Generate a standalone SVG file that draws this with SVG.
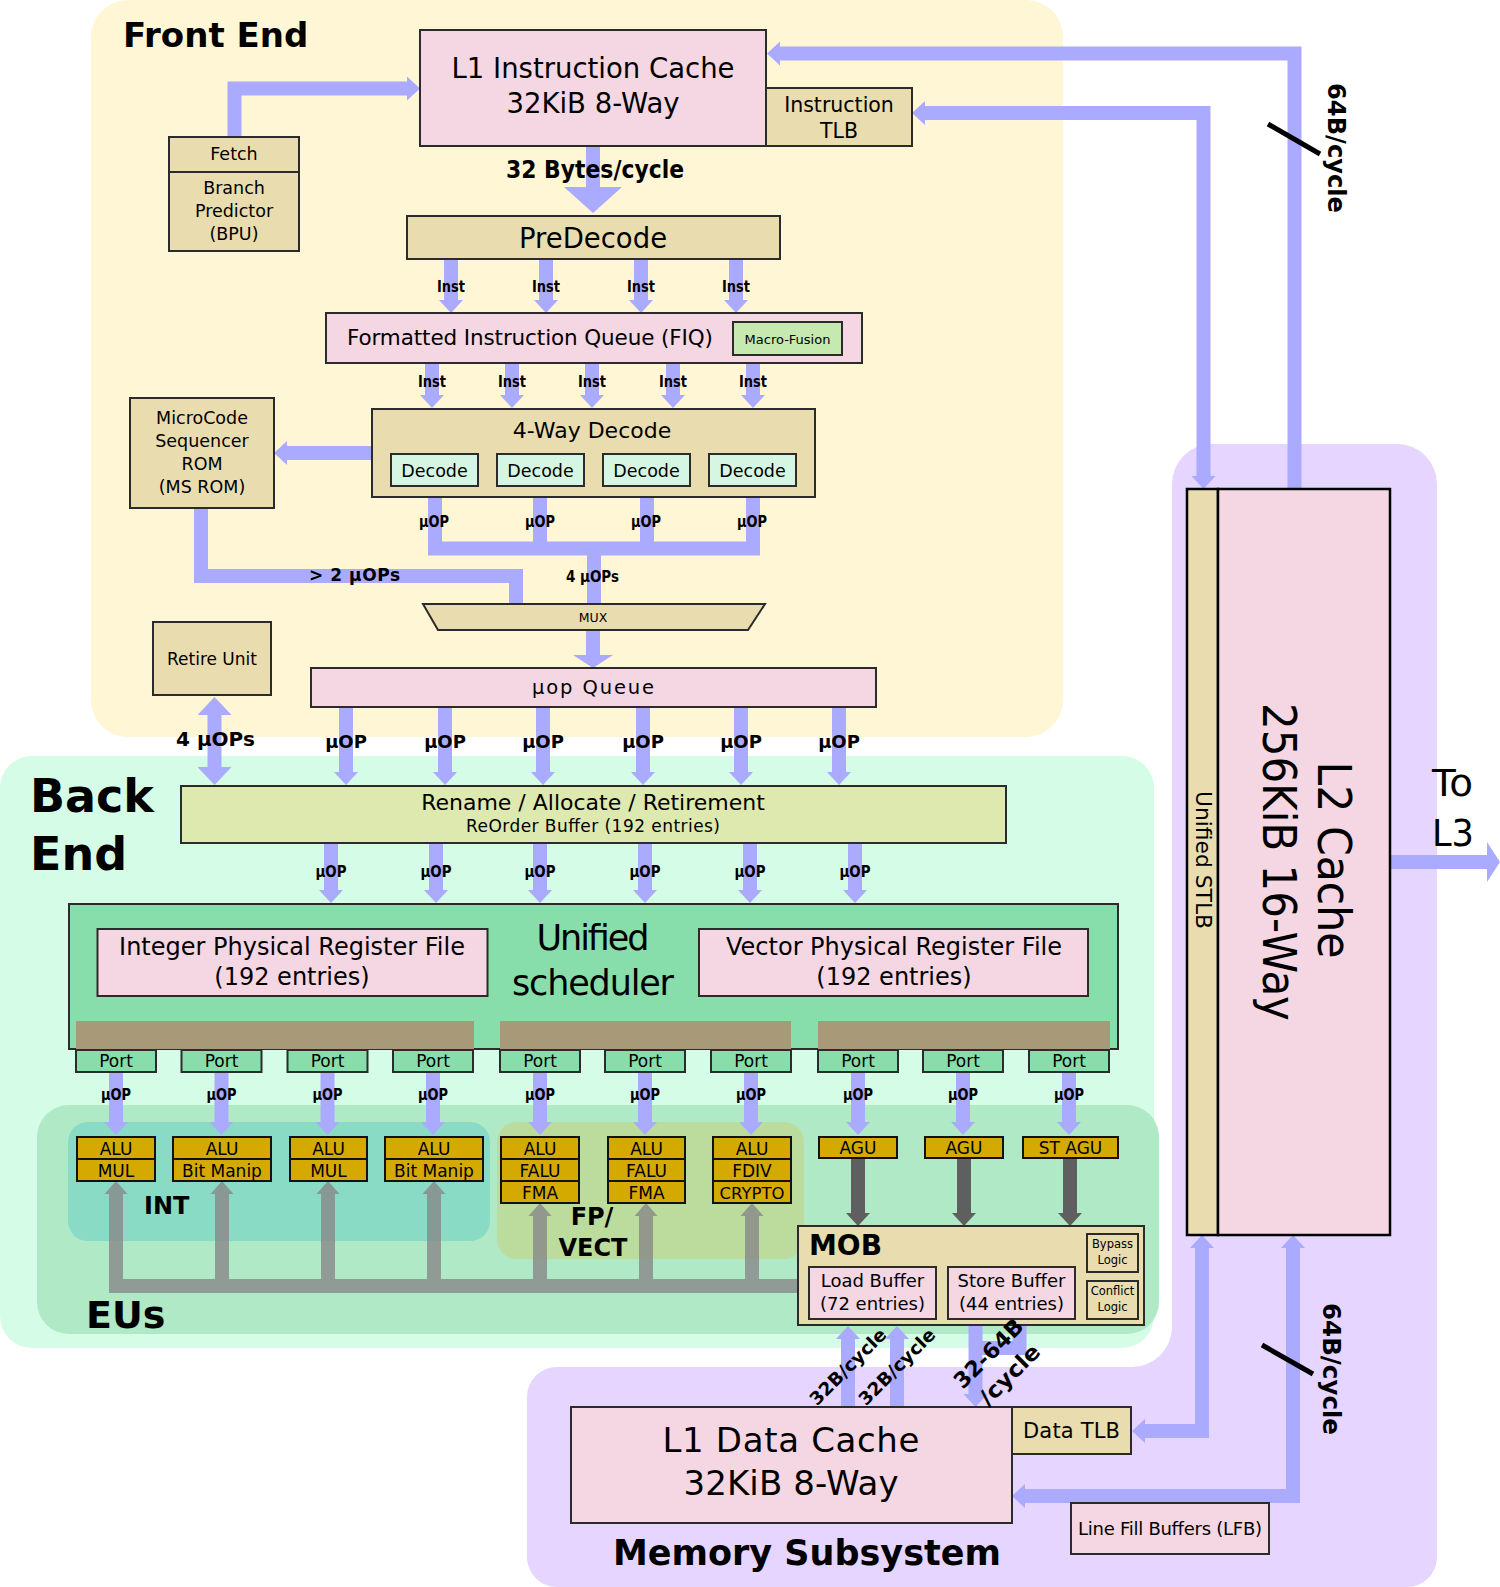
<svg xmlns="http://www.w3.org/2000/svg" width="1500" height="1587" viewBox="0 0 1500 1587">
<defs>
<style>
text{font-family:"DejaVu Sans","Liberation Sans",sans-serif;fill:#000}
.b{font-weight:bold}
.m{text-anchor:middle}
.bx{stroke:#2b2b2b;stroke-width:2}
.tan{fill:#e9ddaf}
.pink{fill:#f4d7e3}
.grn{fill:#87deaa}
.gold{fill:#d4aa00;stroke:#111;stroke-width:2}
.dec{fill:#d5f6e3}
.bl{fill:none;stroke:#aaaaff;stroke-width:14}
.dk{fill:none;stroke:#5f5f5f;stroke-width:14}
.gr{fill:none;stroke:#888;stroke-width:14}
.lb{font-weight:bold;font-size:15px;text-anchor:middle}
</style>
<marker id="ah" markerUnits="userSpaceOnUse" markerWidth="13" markerHeight="24" refX="0" refY="12" orient="auto-start-reverse" overflow="visible"><path d="M0,0 L13,12 L0,24 Z" fill="#aaaaff"/></marker>
<marker id="ahBig" markerUnits="userSpaceOnUse" markerWidth="26" markerHeight="58" refX="0" refY="29" orient="auto" overflow="visible"><path d="M0,0 L26,29 L0,58 Z" fill="#aaaaff"/></marker>
<marker id="ahW" markerUnits="userSpaceOnUse" markerWidth="13" markerHeight="40" refX="0" refY="20" orient="auto" overflow="visible"><path d="M0,0 L13,20 L0,40 Z" fill="#aaaaff"/></marker>
<marker id="ahRet" markerUnits="userSpaceOnUse" markerWidth="18" markerHeight="34" refX="0" refY="17" orient="auto-start-reverse" overflow="visible"><path d="M0,0 L18,17 L0,34 Z" fill="#aaaaff"/></marker>
<marker id="ahDk" markerUnits="userSpaceOnUse" markerWidth="13" markerHeight="24" refX="0" refY="12" orient="auto" overflow="visible"><path d="M0,0 L13,12 L0,24 Z" fill="#5f5f5f"/></marker>
<marker id="ahGr" markerUnits="userSpaceOnUse" markerWidth="13" markerHeight="23" refX="0" refY="11.5" orient="auto" overflow="visible"><path d="M0,0 L13,11.5 L0,23 Z" fill="#888"/></marker>
</defs>

<g id="backgrounds">
<path id="memory-subsystem-bg" d="M1212,444 H1397 A40,40 0 0 1 1437,484 V1557 A30,30 0 0 1 1407,1587 H557 A30,30 0 0 1 527,1557 V1397 A30,30 0 0 1 557,1367 H1132 A40,40 0 0 0 1172,1327 V484 A40,40 0 0 1 1212,444 Z" fill="#e5d5ff"/>
<rect id="front-end-bg" x="91" y="0" width="972" height="737" rx="37" fill="#fff6d5"/>
<rect id="back-end-bg" x="0" y="756" width="1154" height="592" rx="32" fill="#d5fce6"/>
<rect id="eus-bg" x="37" y="1105" width="1122" height="229" rx="32" fill="#afe9c6"/>
<rect id="int-bg" x="68" y="1122" width="422" height="119" rx="20" fill="#8adbc5"/>
<rect id="fp-bg" x="497" y="1122" width="307" height="137" rx="20" fill="#bcdc9e"/>
</g>

<g id="section-labels">
<text class="b" x="123" y="47" font-size="34">Front End</text>
<text class="b" x="30" y="812" font-size="46">Back</text>
<text class="b" x="30" y="870" font-size="46">End</text>
<text class="b" x="86" y="1328" font-size="38">EUs</text>
<text class="b" x="144" y="1214" font-size="24">INT</text>
<text class="b m" x="592" y="1225" font-size="24">FP/</text>
<text class="b m" x="593" y="1256" font-size="24">VECT</text>
<text class="b m" x="807" y="1565" font-size="35">Memory Subsystem</text>
</g>

<g id="connectors">
<path class="bl" d="M234.5,137 V88.5 H407" marker-end="url(#ah)"/>
<line class="bl" x1="593" y1="146" x2="593" y2="187" stroke-width="37" marker-end="url(#ahBig)"/>
<line class="bl" x1="451" y1="259" x2="451" y2="300" marker-end="url(#ah)"/>
<line class="bl" x1="546" y1="259" x2="546" y2="300" marker-end="url(#ah)"/>
<line class="bl" x1="641" y1="259" x2="641" y2="300" marker-end="url(#ah)"/>
<line class="bl" x1="736" y1="259" x2="736" y2="300" marker-end="url(#ah)"/>
<line class="bl" x1="432" y1="363" x2="432" y2="395" marker-end="url(#ah)"/>
<line class="bl" x1="512" y1="363" x2="512" y2="395" marker-end="url(#ah)"/>
<line class="bl" x1="592" y1="363" x2="592" y2="395" marker-end="url(#ah)"/>
<line class="bl" x1="673" y1="363" x2="673" y2="395" marker-end="url(#ah)"/>
<line class="bl" x1="753" y1="363" x2="753" y2="395" marker-end="url(#ah)"/>
<line class="bl" x1="372" y1="453" x2="287" y2="453" marker-end="url(#ah)"/>
<path class="bl" d="M435,497 V548.5 H753 V497"/>
<path class="bl" d="M540,497 V548.5 M647,497 V548.5 M594,548.5 V604"/>
<path class="bl" d="M201,508 V576 H516 V604"/>
<line class="bl" x1="593" y1="630" x2="593" y2="655" stroke-width="24" marker-end="url(#ahW)"/>
<line class="bl" x1="346" y1="707" x2="346" y2="772" stroke-width="15" marker-end="url(#ah)"/>
<line class="bl" x1="445" y1="707" x2="445" y2="772" stroke-width="15" marker-end="url(#ah)"/>
<line class="bl" x1="543" y1="707" x2="543" y2="772" stroke-width="15" marker-end="url(#ah)"/>
<line class="bl" x1="643" y1="707" x2="643" y2="772" stroke-width="15" marker-end="url(#ah)"/>
<line class="bl" x1="741" y1="707" x2="741" y2="772" stroke-width="15" marker-end="url(#ah)"/>
<line class="bl" x1="839" y1="707" x2="839" y2="772" stroke-width="15" marker-end="url(#ah)"/>
<line class="bl" x1="214.5" y1="715" x2="214.5" y2="767" stroke-width="19" marker-start="url(#ahRet)" marker-end="url(#ahRet)"/>
<line class="bl" x1="331" y1="843" x2="331" y2="890" marker-end="url(#ah)"/>
<line class="bl" x1="436" y1="843" x2="436" y2="890" marker-end="url(#ah)"/>
<line class="bl" x1="540" y1="843" x2="540" y2="890" marker-end="url(#ah)"/>
<line class="bl" x1="645" y1="843" x2="645" y2="890" marker-end="url(#ah)"/>
<line class="bl" x1="750" y1="843" x2="750" y2="890" marker-end="url(#ah)"/>
<line class="bl" x1="855" y1="843" x2="855" y2="890" marker-end="url(#ah)"/>
<line class="bl" x1="116" y1="1072" x2="116" y2="1122" marker-end="url(#ah)"/>
<line class="bl" x1="221.5" y1="1072" x2="221.5" y2="1122" marker-end="url(#ah)"/>
<line class="bl" x1="327.5" y1="1072" x2="327.5" y2="1122" marker-end="url(#ah)"/>
<line class="bl" x1="433" y1="1072" x2="433" y2="1122" marker-end="url(#ah)"/>
<line class="bl" x1="540" y1="1072" x2="540" y2="1122" marker-end="url(#ah)"/>
<line class="bl" x1="645" y1="1072" x2="645" y2="1122" marker-end="url(#ah)"/>
<line class="bl" x1="751" y1="1072" x2="751" y2="1122" marker-end="url(#ah)"/>
<line class="bl" x1="858" y1="1072" x2="858" y2="1122" marker-end="url(#ah)"/>
<line class="bl" x1="963" y1="1072" x2="963" y2="1122" marker-end="url(#ah)"/>
<line class="bl" x1="1069" y1="1072" x2="1069" y2="1122" marker-end="url(#ah)"/>
<line class="dk" x1="858" y1="1158" x2="858" y2="1213" marker-end="url(#ahDk)"/>
<line class="dk" x1="964" y1="1158" x2="964" y2="1213" marker-end="url(#ahDk)"/>
<line class="dk" x1="1070" y1="1158" x2="1070" y2="1213" marker-end="url(#ahDk)"/>
<g id="result-bus" opacity="0.8">
<path class="gr" d="M109,1286 H798"/>
<line class="gr" x1="116" y1="1286" x2="116" y2="1194" marker-end="url(#ahGr)"/>
<line class="gr" x1="222" y1="1286" x2="222" y2="1194" marker-end="url(#ahGr)"/>
<line class="gr" x1="328" y1="1286" x2="328" y2="1194" marker-end="url(#ahGr)"/>
<line class="gr" x1="434" y1="1286" x2="434" y2="1194" marker-end="url(#ahGr)"/>
<line class="gr" x1="540" y1="1286" x2="540" y2="1216" marker-end="url(#ahGr)"/>
<line class="gr" x1="646" y1="1286" x2="646" y2="1216" marker-end="url(#ahGr)"/>
<line class="gr" x1="752" y1="1286" x2="752" y2="1216" marker-end="url(#ahGr)"/>
</g>
<line class="bl" x1="848" y1="1407" x2="848" y2="1339" marker-end="url(#ah)"/>
<line class="bl" x1="897" y1="1407" x2="897" y2="1339" marker-end="url(#ah)"/>
<line class="bl" x1="975.5" y1="1325" x2="975.5" y2="1394" stroke-width="15" marker-end="url(#ah)"/>
<path class="bl" d="M1019.5,1325 V1348 H975"/>
<path class="bl" d="M1294.5,489 V53.5 H780" stroke-width="13" marker-end="url(#ah)"/>
<path class="bl" d="M925,113 H1203.5 V476" stroke-width="13" marker-start="url(#ah)" marker-end="url(#ah)"/>
<path class="bl" d="M1202,1248 V1431 H1145" stroke-width="13" marker-start="url(#ah)" marker-end="url(#ah)"/>
<path class="bl" d="M1293,1248 V1496 H1025" stroke-width="13" marker-start="url(#ah)" marker-end="url(#ah)"/>
<line class="bl" x1="1390" y1="862" x2="1487" y2="862" stroke-width="25" marker-end="url(#ahW)"/>
<line x1="1268" y1="124" x2="1320" y2="154" stroke="#000" stroke-width="5"/>
<line x1="1262" y1="1345" x2="1313" y2="1374" stroke="#000" stroke-width="5"/>
</g>

<g id="l1-icache">
<rect class="bx pink" x="420" y="30" width="346" height="116"/>
<text class="m" x="593" y="78" font-size="27.5">L1 Instruction Cache</text>
<text class="m" x="593" y="113" font-size="27.5">32KiB 8-Way</text>
</g>
<g id="itlb">
<rect class="bx tan" x="766" y="88" width="146" height="58"/>
<text class="m" x="839" y="112" font-size="20.5">Instruction</text>
<text class="m" x="839" y="138" font-size="20.5">TLB</text>
</g>
<g id="fetch">
<rect class="bx tan" x="169" y="137" width="130" height="114"/>
<line class="bx" x1="169" y1="172" x2="299" y2="172"/>
<text class="m" x="234" y="160" font-size="17.5">Fetch</text>
<text class="m" x="234" y="194" font-size="17.5">Branch</text>
<text class="m" x="234" y="217" font-size="17.5">Predictor</text>
<text class="m" x="234" y="240" font-size="17.5">(BPU)</text>
</g>
<g id="predecode">
<rect class="bx tan" x="407" y="216" width="373" height="43"/>
<text class="m" x="593" y="248" font-size="27.5">PreDecode</text>
</g>
<g id="fiq">
<rect class="bx pink" x="326" y="313" width="536" height="50"/>
<text x="347" y="345" font-size="21.5" textLength="366">Formatted Instruction Queue (FIQ)</text>
<rect class="bx" x="733" y="322" width="109" height="33" fill="#c6e9af"/>
<text class="m" x="787.5" y="344" font-size="13">Macro-Fusion</text>
</g>
<g id="decode">
<rect class="bx tan" x="372" y="409" width="443" height="88"/>
<text class="m" x="592" y="438" font-size="22">4-Way Decode</text>
<rect class="bx dec" x="391" y="454" width="87" height="32"/>
<rect class="bx dec" x="497" y="454" width="87" height="32"/>
<rect class="bx dec" x="603" y="454" width="87" height="32"/>
<rect class="bx dec" x="709" y="454" width="87" height="32"/>
<text class="m" x="434.5" y="477" font-size="17.5">Decode</text>
<text class="m" x="540.5" y="477" font-size="17.5">Decode</text>
<text class="m" x="646.5" y="477" font-size="17.5">Decode</text>
<text class="m" x="752.5" y="477" font-size="17.5">Decode</text>
</g>
<g id="msrom">
<rect class="bx tan" x="130" y="398" width="144" height="110"/>
<text class="m" x="202" y="424" font-size="17.5">MicroCode</text>
<text class="m" x="202" y="447" font-size="17.5">Sequencer</text>
<text class="m" x="202" y="470" font-size="17.5">ROM</text>
<text class="m" x="202" y="493" font-size="17.5">(MS ROM)</text>
</g>
<g id="mux">
<polygon class="bx tan" points="423,604 765,604 748,630 438,630"/>
<text class="m" x="593" y="622" font-size="12.5">MUX</text>
</g>
<g id="retire-unit">
<rect class="bx tan" x="153" y="622" width="118" height="73"/>
<text class="m" x="212" y="665" font-size="17">Retire Unit</text>
</g>
<g id="uop-queue">
<rect class="bx pink" x="311" y="668" width="565" height="39"/>
<text class="m" x="593" y="694" font-size="19.5" textLength="122">µop Queue</text>
</g>
<g id="rename">
<rect class="bx" x="181" y="786" width="825" height="57" fill="#dde9af"/>
<text class="m" x="593" y="810" font-size="22">Rename / Allocate / Retirement</text>
<text class="m" x="593" y="832" font-size="17" textLength="254">ReOrder Buffer  (192 entries)</text>
</g>
<g id="scheduler">
<rect class="bx grn" x="69" y="904" width="1049" height="145"/>
<rect class="bx pink" x="97.5" y="929" width="390" height="67"/>
<text class="m" x="292" y="955" font-size="24">Integer Physical Register File</text>
<text class="m" x="292" y="985" font-size="24">(192 entries)</text>
<rect class="bx pink" x="699" y="929" width="389" height="67"/>
<text class="m" x="894" y="955" font-size="24">Vector Physical Register File</text>
<text class="m" x="894" y="985" font-size="24">(192 entries)</text>
<text class="m" x="593" y="950" font-size="35" textLength="113">Unified</text>
<text class="m" x="593" y="995" font-size="35" textLength="162">scheduler</text>
<rect x="76" y="1021" width="398" height="28" fill="#a89a78"/>
<rect x="500" y="1021" width="291" height="28" fill="#a89a78"/>
<rect x="818" y="1021" width="292" height="28" fill="#a89a78"/>
</g>
<g id="ports">
<rect class="bx grn" x="76" y="1050" width="80" height="22"/>
<rect class="bx grn" x="181.5" y="1050" width="80" height="22"/>
<rect class="bx grn" x="287.5" y="1050" width="80" height="22"/>
<rect class="bx grn" x="393" y="1050" width="80" height="22"/>
<rect class="bx grn" x="500" y="1050" width="80" height="22"/>
<rect class="bx grn" x="605" y="1050" width="80" height="22"/>
<rect class="bx grn" x="711" y="1050" width="80" height="22"/>
<rect class="bx grn" x="818" y="1050" width="80" height="22"/>
<rect class="bx grn" x="923" y="1050" width="80" height="22"/>
<rect class="bx grn" x="1029" y="1050" width="80" height="22"/>
<text class="m" x="116" y="1067" font-size="17">Port</text>
<text class="m" x="221.5" y="1067" font-size="17">Port</text>
<text class="m" x="327.5" y="1067" font-size="17">Port</text>
<text class="m" x="433" y="1067" font-size="17">Port</text>
<text class="m" x="540" y="1067" font-size="17">Port</text>
<text class="m" x="645" y="1067" font-size="17">Port</text>
<text class="m" x="751" y="1067" font-size="17">Port</text>
<text class="m" x="858" y="1067" font-size="17">Port</text>
<text class="m" x="963" y="1067" font-size="17">Port</text>
<text class="m" x="1069" y="1067" font-size="17">Port</text>
</g>
<g id="int-units">
<rect class="gold" x="77" y="1137" width="78" height="22"/><rect class="gold" x="77" y="1159" width="78" height="22"/>
<rect class="gold" x="173" y="1137" width="98" height="22"/><rect class="gold" x="173" y="1159" width="98" height="22"/>
<rect class="gold" x="290" y="1137" width="77" height="22"/><rect class="gold" x="290" y="1159" width="77" height="22"/>
<rect class="gold" x="385" y="1137" width="98" height="22"/><rect class="gold" x="385" y="1159" width="98" height="22"/>
<text class="m" x="116" y="1155" font-size="17">ALU</text><text class="m" x="116" y="1177" font-size="17">MUL</text>
<text class="m" x="222" y="1155" font-size="17">ALU</text><text class="m" x="222" y="1177" font-size="17">Bit Manip</text>
<text class="m" x="328.5" y="1155" font-size="17">ALU</text><text class="m" x="328.5" y="1177" font-size="17">MUL</text>
<text class="m" x="434" y="1155" font-size="17">ALU</text><text class="m" x="434" y="1177" font-size="17">Bit Manip</text>
</g>
<g id="fp-units">
<rect class="gold" x="501" y="1137" width="78" height="22"/><rect class="gold" x="501" y="1159" width="78" height="22"/><rect class="gold" x="501" y="1181" width="78" height="22"/>
<rect class="gold" x="608" y="1137" width="77" height="22"/><rect class="gold" x="608" y="1159" width="77" height="22"/><rect class="gold" x="608" y="1181" width="77" height="22"/>
<rect class="gold" x="713" y="1137" width="78" height="22"/><rect class="gold" x="713" y="1159" width="78" height="22"/><rect class="gold" x="713" y="1181" width="78" height="22"/>
<text class="m" x="540" y="1155" font-size="17">ALU</text><text class="m" x="540" y="1177" font-size="17">FALU</text><text class="m" x="540" y="1199" font-size="17">FMA</text>
<text class="m" x="646.5" y="1155" font-size="17">ALU</text><text class="m" x="646.5" y="1177" font-size="17">FALU</text><text class="m" x="646.5" y="1199" font-size="17">FMA</text>
<text class="m" x="752" y="1155" font-size="17">ALU</text><text class="m" x="752" y="1177" font-size="17">FDIV</text><text class="m" x="752" y="1199" font-size="16.5">CRYPTO</text>
</g>
<g id="agu-units">
<rect class="gold" x="819" y="1137" width="78" height="21"/>
<rect class="gold" x="925" y="1137" width="78" height="21"/>
<rect class="gold" x="1023" y="1137" width="95" height="21"/>
<text class="m" x="858" y="1154" font-size="17">AGU</text>
<text class="m" x="964" y="1154" font-size="17">AGU</text>
<text class="m" x="1070.5" y="1154" font-size="17">ST AGU</text>
</g>
<g id="mob">
<rect class="bx tan" x="798" y="1226" width="346" height="99"/>
<text class="b" x="809" y="1255" font-size="28">MOB</text>
<rect class="bx pink" x="809" y="1267" width="127" height="52"/>
<text class="m" x="872.5" y="1287" font-size="18">Load Buffer</text>
<text class="m" x="872.5" y="1310" font-size="18">(72 entries)</text>
<rect class="bx pink" x="948" y="1267" width="127" height="52"/>
<text class="m" x="1011.5" y="1287" font-size="18">Store Buffer</text>
<text class="m" x="1011.5" y="1310" font-size="18">(44 entries)</text>
<rect class="bx tan" x="1087" y="1234" width="51" height="38"/>
<text class="m" x="1112.5" y="1248" font-size="11.5">Bypass</text>
<text class="m" x="1112.5" y="1264" font-size="11.5">Logic</text>
<rect class="bx tan" x="1087" y="1281" width="51" height="38"/>
<text class="m" x="1112.5" y="1295" font-size="11.5">Conflict</text>
<text class="m" x="1112.5" y="1311" font-size="11.5">Logic</text>
</g>
<g id="l1-dcache">
<rect class="bx pink" x="571" y="1407" width="441" height="116"/>
<text class="m" x="791" y="1452" font-size="34" textLength="257">L1 Data Cache</text>
<text class="m" x="791" y="1495" font-size="34" textLength="215">32KiB 8-Way</text>
</g>
<g id="dtlb">
<rect class="bx tan" x="1012" y="1407" width="119" height="47"/>
<text class="m" x="1071.5" y="1438" font-size="21" textLength="97">Data TLB</text>
</g>
<g id="lfb">
<rect class="bx pink" x="1071" y="1503" width="198" height="51"/>
<text class="m" x="1170" y="1535" font-size="18" textLength="184">Line Fill Buffers (LFB)</text>
</g>
<g id="l2-cache">
<rect class="tan" x="1187" y="489" width="31" height="746" stroke="#000" stroke-width="2.5"/>
<rect class="pink" x="1218" y="489" width="172" height="746" stroke="#000" stroke-width="2.5"/>
<text class="m" transform="translate(1196,860) rotate(90)" font-size="21" textLength="138" lengthAdjust="spacingAndGlyphs">Unified STLB</text>
<text class="m" transform="translate(1318,860) rotate(90)" font-size="46" textLength="197" lengthAdjust="spacingAndGlyphs">L2 Cache</text>
<text class="m" transform="translate(1263,862) rotate(90)" font-size="46" textLength="318" lengthAdjust="spacingAndGlyphs">256KiB 16-Way</text>
</g>
<g id="to-l3">
<text x="1432" y="796" font-size="38" textLength="41" lengthAdjust="spacingAndGlyphs">To</text>
<text x="1432" y="846" font-size="38" textLength="42" lengthAdjust="spacingAndGlyphs">L3</text>
</g>

<g id="connector-labels">
<text class="b m" x="595" y="178" font-size="25" textLength="178" lengthAdjust="spacingAndGlyphs">32 Bytes/cycle</text>
<text class="lb" x="451" y="292" textLength="28" lengthAdjust="spacingAndGlyphs">Inst</text>
<text class="lb" x="546" y="292" textLength="28" lengthAdjust="spacingAndGlyphs">Inst</text>
<text class="lb" x="641" y="292" textLength="28" lengthAdjust="spacingAndGlyphs">Inst</text>
<text class="lb" x="736" y="292" textLength="28" lengthAdjust="spacingAndGlyphs">Inst</text>
<text class="lb" x="432" y="387" textLength="28" lengthAdjust="spacingAndGlyphs">Inst</text>
<text class="lb" x="512" y="387" textLength="28" lengthAdjust="spacingAndGlyphs">Inst</text>
<text class="lb" x="592" y="387" textLength="28" lengthAdjust="spacingAndGlyphs">Inst</text>
<text class="lb" x="673" y="387" textLength="28" lengthAdjust="spacingAndGlyphs">Inst</text>
<text class="lb" x="753" y="387" textLength="28" lengthAdjust="spacingAndGlyphs">Inst</text>
<text class="lb" x="434" y="527" textLength="30" lengthAdjust="spacingAndGlyphs">µOP</text>
<text class="lb" x="540" y="527" textLength="30" lengthAdjust="spacingAndGlyphs">µOP</text>
<text class="lb" x="646" y="527" textLength="30" lengthAdjust="spacingAndGlyphs">µOP</text>
<text class="lb" x="752" y="527" textLength="30" lengthAdjust="spacingAndGlyphs">µOP</text>
<text class="b" x="309" y="581" font-size="17" textLength="91">&gt; 2 µOPs</text>
<text class="b m" x="592.5" y="582" font-size="15" textLength="53" lengthAdjust="spacingAndGlyphs">4 µOPs</text>
<text class="b" x="176" y="746" font-size="20">4 µOPs</text>
<text class="b m" x="346" y="748" font-size="18">µOP</text>
<text class="b m" x="445" y="748" font-size="18">µOP</text>
<text class="b m" x="543" y="748" font-size="18">µOP</text>
<text class="b m" x="643" y="748" font-size="18">µOP</text>
<text class="b m" x="741" y="748" font-size="18">µOP</text>
<text class="b m" x="839" y="748" font-size="18">µOP</text>
<text class="lb" x="331" y="877" textLength="31" lengthAdjust="spacingAndGlyphs">µOP</text>
<text class="lb" x="436" y="877" textLength="31" lengthAdjust="spacingAndGlyphs">µOP</text>
<text class="lb" x="540" y="877" textLength="31" lengthAdjust="spacingAndGlyphs">µOP</text>
<text class="lb" x="645" y="877" textLength="31" lengthAdjust="spacingAndGlyphs">µOP</text>
<text class="lb" x="750" y="877" textLength="31" lengthAdjust="spacingAndGlyphs">µOP</text>
<text class="lb" x="855" y="877" textLength="31" lengthAdjust="spacingAndGlyphs">µOP</text>
<text class="lb" x="116" y="1100" textLength="30" lengthAdjust="spacingAndGlyphs">µOP</text>
<text class="lb" x="221.5" y="1100" textLength="30" lengthAdjust="spacingAndGlyphs">µOP</text>
<text class="lb" x="327.5" y="1100" textLength="30" lengthAdjust="spacingAndGlyphs">µOP</text>
<text class="lb" x="433" y="1100" textLength="30" lengthAdjust="spacingAndGlyphs">µOP</text>
<text class="lb" x="540" y="1100" textLength="30" lengthAdjust="spacingAndGlyphs">µOP</text>
<text class="lb" x="645" y="1100" textLength="30" lengthAdjust="spacingAndGlyphs">µOP</text>
<text class="lb" x="751" y="1100" textLength="30" lengthAdjust="spacingAndGlyphs">µOP</text>
<text class="lb" x="858" y="1100" textLength="30" lengthAdjust="spacingAndGlyphs">µOP</text>
<text class="lb" x="963" y="1100" textLength="30" lengthAdjust="spacingAndGlyphs">µOP</text>
<text class="lb" x="1069" y="1100" textLength="30" lengthAdjust="spacingAndGlyphs">µOP</text>
<text class="b m" transform="translate(848,1367) rotate(-45)" y="6" font-size="18" textLength="100" lengthAdjust="spacingAndGlyphs">32B/cycle</text>
<text class="b m" transform="translate(897,1367) rotate(-45)" y="6" font-size="18" textLength="100" lengthAdjust="spacingAndGlyphs">32B/cycle</text>
<text class="b m" transform="translate(989,1354) rotate(-45)" y="7" font-size="22" textLength="88" lengthAdjust="spacingAndGlyphs">32-64B</text>
<text class="b m" transform="translate(1010,1375) rotate(-45)" y="7" font-size="22" textLength="76" lengthAdjust="spacingAndGlyphs">/cycle</text>
<text class="b m" transform="translate(1328,148) rotate(90)" font-size="24" textLength="130" lengthAdjust="spacingAndGlyphs">64B/cycle</text>
<text class="b m" transform="translate(1323,1369) rotate(90)" font-size="24" textLength="132" lengthAdjust="spacingAndGlyphs">64B/cycle</text>
</g>
</svg>
